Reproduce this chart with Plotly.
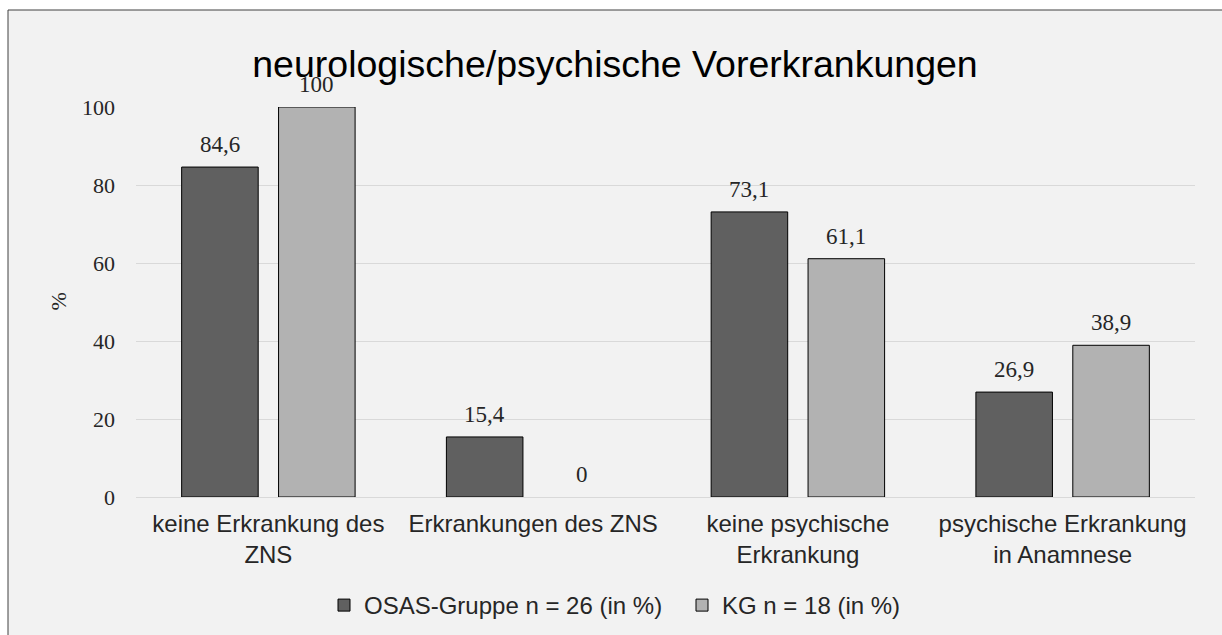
import plotly.graph_objects as go

categories = ["keine Erkrankung des<br>ZNS", "Erkrankungen des ZNS",
              "keine psychische<br>Erkrankung", "psychische Erkrankung<br>in Anamnese"]
osas_values = [84.6, 15.4, 73.1, 26.9]
kg_values = [100, 0, 61.1, 38.9]
series_names = ["OSAS-Gruppe n = 26 (in %)", "KG n = 18 (in %)"]
y_ticks = [0, 20, 40, 60, 80, 100]

W, H = 1222, 635
ML, MR, MT, MB = 136, 27, 107, 138
PW, PH = W - ML - MR, H - MT - MB
BARGAP, BARGROUPGAP = 0.268, 0.21

DARK, LIGHT = "#606060", "#b2b2b2"
TXT = "#262626"
SERIF = "Liberation Serif, Times New Roman, serif"
SANS = "Liberation Sans, Arial, sans-serif"


def fmt(v):
    return str(int(v)) if float(v).is_integer() else f"{v:.1f}".replace(".", ",")


def px_x(px):
    return (px - ML) / PW


def px_y(py):
    return (H - MB - py) / PH


fig = go.Figure()
for name, vals, col in [(series_names[0], osas_values, DARK), (series_names[1], kg_values, LIGHT)]:
    fig.add_trace(go.Bar(
        x=categories, y=vals, name=name,
        marker=dict(color=col, line=dict(color="#000000", width=[1 if v != 0 else 0 for v in vals])),
        hoverinfo="skip",
    ))

off = (1 - BARGAP) / 4
annotations = []
for i in range(len(categories)):
    for vals, sign in [(osas_values, -1), (kg_values, 1)]:
        annotations.append(dict(
            x=i + sign * off, y=vals[i], xref="x", yref="y",
            text=fmt(vals[i]), showarrow=False, yanchor="bottom", yshift=8,
            font=dict(family=SERIF, size=23, color=TXT),
        ))
annotations.append(dict(
    x=px_x(57.5), y=0.5, xref="paper", yref="paper", text="%", textangle=-90,
    xanchor="center", yanchor="middle",
    showarrow=False, font=dict(family=SERIF, size=22, color=TXT),
))

fig.update_layout(
    width=W, height=H,
    margin=dict(l=ML, r=MR, t=MT, b=MB, autoexpand=False),
    paper_bgcolor="#ffffff", plot_bgcolor="rgba(0,0,0,0)",
    barmode="group", bargap=BARGAP, bargroupgap=BARGROUPGAP,
    title=dict(text="neurologische/psychische Vorerkrankungen", x=615 / W, xanchor="center",
               y=1 - 64 / H, yanchor="middle", yref="container",
               font=dict(family=SANS, size=37.5, color="#000000")),
    xaxis=dict(showgrid=False, showline=False, ticks="", ticklabelstandoff=10,
               tickfont=dict(family=SANS, size=24, color=TXT), fixedrange=True),
    yaxis=dict(range=[0, 100], tickvals=y_ticks, ticktext=[str(t) for t in y_ticks],
               gridcolor="#d9d9d9", gridwidth=1, zeroline=True, zerolinecolor="#d9d9d9",
               zerolinewidth=1, showline=False, ticks="", ticklabelstandoff=20,
               tickfont=dict(family=SERIF, size=22, color=TXT), fixedrange=True),
    legend=dict(orientation="h", x=px_x(682), xanchor="center", y=px_y(605.5), yanchor="middle",
                font=dict(family=SANS, size=24, color=TXT), bgcolor="rgba(0,0,0,0)",
                traceorder="normal", entrywidth=313),
    annotations=annotations,
    shapes=[dict(type="rect", xref="paper", yref="paper", layer="below",
                 x0=px_x(8), x1=px_x(1240), y0=px_y(660), y1=px_y(10),
                 fillcolor="#f2f2f2", line=dict(color="#404040", width=1))],
)

fig.write_html("out.html", config={"displayModeBar": False},
               post_script="document.body.style.margin='0';")
